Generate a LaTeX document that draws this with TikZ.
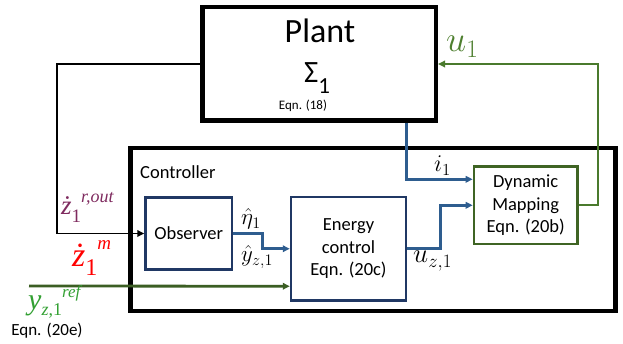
\documentclass[tikz,border=0pt]{standalone}
\usepackage{fix-cm}
\usepackage{fontspec}
\setmainfont{Carlito}
\newfontfamily\tms{Liberation Serif}
\usetikzlibrary{arrows.meta}
\definecolor{navy}{HTML}{203864}
\definecolor{bline}{HTML}{2E5D8F}
\definecolor{gbox}{HTML}{3F6424}
\definecolor{gline}{HTML}{4A7A2D}
\definecolor{gref}{HTML}{3B5E23}
\definecolor{glabel}{HTML}{33A033}
\definecolor{ulabel}{HTML}{4E7F2F}
\definecolor{purp}{HTML}{7F2B5F}
\newcommand{\fs}[1]{\fontsize{#1}{#1}\selectfont}
\tikzset{
  bigbox/.style={draw=black, line width=4.5pt, inner sep=0pt},
  bluebox/.style={draw=navy, line width=2.5pt, inner sep=0pt, align=center, font=\fontsize{18.5}{22.5}\selectfont},
  greenbox/.style={draw=gbox, line width=2.7pt, inner sep=0pt, align=center, font=\fontsize{18.5}{22.5}\selectfont},
  arr/.style={-{Triangle[length=7pt,width=6.5pt]}},
  bconn/.style={arr, draw=bline, line width=3pt},
  kconn/.style={arr, draw=black, line width=1.7pt},
  gconn/.style={arr, draw=gline, line width=1.7pt},
  rconn/.style={arr, draw=gref, line width=2.8pt},
  lbl/.style={inner sep=0pt}
}
\begin{document}
\begin{tikzpicture}[x=1pt,y=-1pt]
\useasboundingbox (0,0) rectangle (623,344);
% boxes
\node[bigbox, minimum width=233.5pt, minimum height=113.5pt] (plant) at (319,64) {};
\node[bigbox, minimum width=485pt, minimum height=163pt] (ctrl) at (373,229.5) {};
\node[bluebox, minimum width=86.5pt, minimum height=72pt] (obs) at (188.75,233.5) {Observer};
\node[bluebox, minimum width=115pt, minimum height=103.5pt] (enc) at (348.5,248.75) {Energy\\control\\Eqn. (20c)};
\node[greenbox, minimum width=103.3pt, minimum height=77.3pt] (dyn) at (525.7,205.3) {Dynamic\\Mapping\\Eqn. (20b)};
% texts in plant / controller
\node[lbl, font=\fs{34}, anchor=base] (plantname) at (320,43) {Plant};
\node[lbl, anchor=base west] (sigma) at (304,83) {\fs{31}Σ\raisebox{-11pt}{\fs{23}1}};
\node[lbl, font=\fs{13}, anchor=base] (plantrefeq) at (303,110) {Eqn. (18)};
\node[lbl, font=\fs{18.5}, anchor=west] (ctrlname) at (140,172) {Controller};
% connectors
\coordinate (kx) at (57,65);
\draw[kconn] (plant.west) -- (plant.west -| kx) |- (obs.west);
\draw[bconn] ([xshift=-32pt]plant.south east) |- ([yshift=26pt]dyn.west);
\coordinate (ox) at (262,0);
\draw[bconn] (obs.east) -- (obs.east -| ox) |- (enc.west);
\coordinate (ex) at (440,0);
\draw[bconn] (enc.east) -- (enc.east -| ex) |- (dyn.west);
\coordinate (dx) at (598,0);
\draw[gconn] (dyn.east) -- (dyn.east -| dx) |- (plant.east);
\coordinate (refstart) at (29,286);
\draw[rconn] (refstart) -- ([yshift=-37.5pt]enc.west);
% labels
\node[lbl, text=ulabel, font=\fs{36}, anchor=base west] (u1) at (446,52) {$u_1$};
\node[lbl, font=\fs{24}, anchor=base west] (i1) at (434,172) {$i_1$};
\node[lbl, font=\fs{27}, anchor=base west] (uz1) at (413,263) {$u_{z,1}$};
\node[lbl, font=\fs{23}, anchor=base west] (eta) at (241,225) {$\hat{\eta}_1$};
\node[lbl, font=\fs{23}, anchor=base west] (yhat) at (241,262) {$\hat{y}_{z,1}$};
\node[lbl, text=purp, anchor=base west] (zrout) at (61,215) {\tms\itshape\fs{27}ż\raisebox{-8pt}{\fs{19}\upshape 1}\raisebox{12pt}{\fs{18}r,out}};
\node[lbl, text=red, anchor=base west] (zm) at (72,267) {\tms\itshape\fs{34}ż\raisebox{-9pt}{\fs{24}\upshape 1}\raisebox{17pt}{\fs{19}m}};
\node[lbl, text=glabel, anchor=base west] (yref) at (28,309) {\tms\itshape\fs{30}y\raisebox{-6pt}{\fs{18}z\upshape,1}\raisebox{12pt}{\fs{17}ref}};
\node[lbl, font=\fs{17}, anchor=base] (yrefeq) at (47,335) {Eqn. (20e)};
\end{tikzpicture}
\end{document}
